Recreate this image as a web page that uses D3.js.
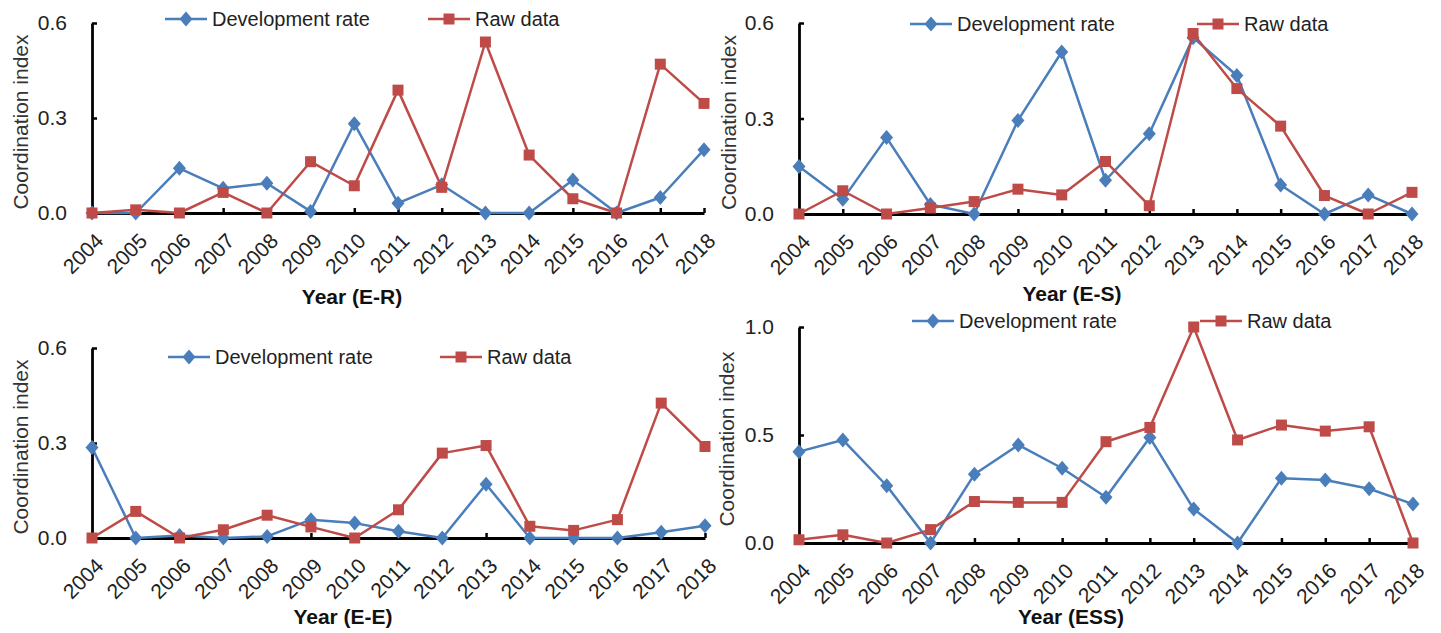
<!DOCTYPE html>
<html><head><meta charset="utf-8">
<script src="https://cdn.jsdelivr.net/npm/d3@7"></script>
<style>
html,body{margin:0;padding:0;background:#fff;}
svg{display:block;font-family:"Liberation Sans",Arial,sans-serif;}
</style></head>
<body>
<svg id="chart" width="1441" height="633"></svg>
<script>
const years = ["2004","2005","2006","2007","2008","2009","2010","2011","2012","2013","2014","2015","2016","2017","2018"];
const seriesNames = ["Development rate","Raw data"];
const yTicksSmall = [0, 0.3, 0.6];
const yTicksLarge = [0, 0.5, 1.0];
const xTitles = ["Year (E-R)","Year (E-S)","Year (E-E)","Year (ESS)"];
const yTitle = "Coordination index";

const erDev  = [0, 0, 0.141, 0.078, 0.094, 0.005, 0.282, 0.031, 0.089, 0, 0, 0.104, 0, 0.049, 0.200];
const erRaw  = [0, 0.010, 0, 0.065, 0, 0.162, 0.086, 0.388, 0.081, 0.540, 0.183, 0.045, 0, 0.470, 0.346];
const esDev  = [0.149, 0.046, 0.240, 0.030, 0, 0.294, 0.509, 0.106, 0.252, 0.554, 0.435, 0.091, 0, 0.060, 0];
const esRaw  = [0, 0.073, 0, 0.019, 0.039, 0.078, 0.060, 0.165, 0.026, 0.567, 0.394, 0.276, 0.058, 0, 0.068];
const eeDev  = [0.286, 0, 0.008, 0, 0.005, 0.058, 0.047, 0.021, 0, 0.170, 0, 0, 0, 0.018, 0.039];
const eeRaw  = [0, 0.084, 0, 0.026, 0.072, 0.035, 0, 0.089, 0.268, 0.292, 0.037, 0.024, 0.058, 0.426, 0.289];
const essDev = [0.423, 0.477, 0.265, 0, 0.318, 0.454, 0.346, 0.212, 0.488, 0.157, 0, 0.300, 0.292, 0.251, 0.180];
const essRaw = [0.015, 0.038, 0, 0.062, 0.192, 0.188, 0.188, 0.469, 0.535, 1.000, 0.477, 0.546, 0.518, 0.538, 0];

const blue = "#4a7ebb", red = "#be4b48";

const panels = [
  {dev: erDev, raw: erRaw, ticks: yTicksSmall, title: xTitles[0],
   x0: 92, x1: 704, yb: 213, yt: 23, ytx: 21, legY: 19, legX: [165, 428], xtX: 352, xtY: 297},
  {dev: esDev, raw: esRaw, ticks: yTicksSmall, title: xTitles[1],
   x0: 799, x1: 1412, yb: 214, yt: 23, ytx: 729, legY: 24, legX: [910, 1197], xtX: 1072, xtY: 294},
  {dev: eeDev, raw: eeRaw, ticks: yTicksSmall, title: xTitles[2],
   x0: 92, x1: 705, yb: 538, yt: 348, ytx: 21, legY: 357, legX: [168, 440], xtX: 343, xtY: 617},
  {dev: essDev, raw: essRaw, ticks: yTicksLarge, title: xTitles[3],
   x0: 799, x1: 1413, yb: 543, yt: 327, ytx: 727, legY: 321, legX: [912, 1200], xtX: 1071, xtY: 617}
];

const diamond = {draw(ctx, size){ const w = 6.5, h = 7.5; ctx.moveTo(0,-h); ctx.lineTo(w,0); ctx.lineTo(0,h); ctx.lineTo(-w,0); ctx.closePath(); }};
const square = {draw(ctx, size){ const s = 5.5; ctx.moveTo(-s,-s); ctx.lineTo(s,-s); ctx.lineTo(s,s); ctx.lineTo(-s,s); ctx.closePath(); }};

const svg = d3.select("#chart");

panels.forEach(p => {
  const g = svg.append("g");
  const x = d3.scalePoint().domain(years).range([p.x0, p.x1]);
  const yMax = p.ticks[p.ticks.length - 1];
  const y = d3.scaleLinear().domain([0, yMax]).range([p.yb, p.yt]);

  // y axis
  const ya = g.append("g").attr("transform", `translate(${p.x0},0)`)
    .call(d3.axisLeft(y).tickValues(p.ticks).tickFormat(d3.format(".1f")).tickSizeInner(-5).tickSizeOuter(0).tickPadding(25));
  ya.select(".domain").attr("stroke", "#000").attr("stroke-width", 2.8);
  ya.selectAll(".tick line").attr("stroke", "#000").attr("stroke-width", 2.5);
  ya.selectAll(".tick text").attr("font-size", 21).attr("fill", "#222").attr("font-family", "Liberation Sans, Arial, sans-serif");

  // x axis
  const xa = g.append("g").attr("transform", `translate(0,${p.yb})`)
    .call(d3.axisBottom(x).tickSizeInner(-5).tickSizeOuter(0).tickFormat(""));
  xa.select(".domain").attr("stroke", "#000").attr("stroke-width", 2.8);
  xa.selectAll(".tick line").attr("stroke", "#000").attr("stroke-width", 2.5);
  xa.selectAll(".tick").append("text")
    .attr("transform", "translate(7,24) rotate(-45)")
    .attr("text-anchor", "end").attr("dy", "0.35em")
    .attr("font-size", 21).attr("fill", "#222")
    .attr("font-family", "Liberation Sans, Arial, sans-serif")
    .text(d => d);

  // titles
  g.append("text").attr("transform", `translate(${p.ytx},${(p.yb + p.yt) / 2 + 4}) rotate(-90)`)
    .attr("text-anchor", "middle").attr("dy", "0.35em").attr("font-size", 21).attr("fill", "#333")
    .text(yTitle);
  g.append("text").attr("x", p.xtX).attr("y", p.xtY).attr("dy", "0.35em")
    .attr("text-anchor", "middle").attr("font-size", 21).attr("font-weight", "bold").attr("fill", "#111")
    .text(p.title);

  // series
  const line = d3.line().x((d, i) => x(years[i])).y(d => y(d));
  [[p.dev, blue, diamond], [p.raw, red, square]].forEach(([vals, col, sym]) => {
    g.append("path").datum(vals).attr("d", line).attr("fill", "none")
      .attr("stroke", col).attr("stroke-width", 2.5).attr("stroke-linejoin", "round");
    g.selectAll(null).data(vals).enter().append("path")
      .attr("transform", (d, i) => `translate(${x(years[i])},${y(d)})`)
      .attr("d", d3.symbol().type(sym)).attr("fill", col);
  });

  // legend
  [[blue, diamond, seriesNames[0]], [red, square, seriesNames[1]]].forEach(([col, sym, name], k) => {
    const lx = p.legX[k];
    const lg = g.append("g").attr("transform", `translate(${lx},${p.legY})`);
    lg.append("line").attr("x1", 0).attr("x2", 42).attr("stroke", col).attr("stroke-width", 2.5);
    lg.append("path").attr("transform", "translate(21,0)").attr("d", d3.symbol().type(sym)).attr("fill", col);
    lg.append("text").attr("x", 47).attr("dy", "0.35em").attr("font-size", 20).attr("fill", "#222").text(name);
  });
});
</script>
</body></html>
